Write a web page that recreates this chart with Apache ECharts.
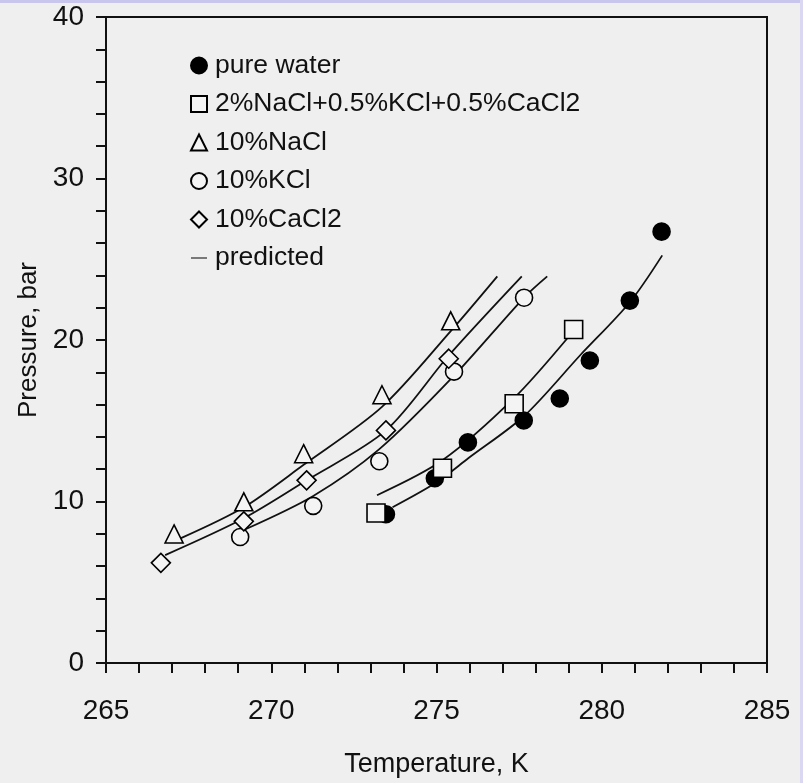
<!DOCTYPE html>
<html>
<head>
<meta charset="utf-8">
<script src="https://cdn.jsdelivr.net/npm/echarts@6/dist/echarts.min.js"></script>
<style>
html,body{margin:0;padding:0;background:#efefef;}
#c{width:803px;height:783px;}
</style>
</head>
<body>
<div id="c"></div>
<script>
// ---- measured data (Temperature K, Pressure bar) ----
const pureWater = [[273.47,9.21],[274.95,11.44],[275.95,13.66],[277.64,15.02],[278.73,16.38],[279.64,18.73],[280.85,22.44],[281.81,26.71]];
const mixedBrine = [[273.17,9.29],[275.18,12.06],[277.35,16.05],[279.15,20.65]];
const naCl10 = [[267.06,7.99],[269.17,9.98],[270.98,12.96],[273.35,16.61],[275.43,21.19]];
const kCl10 = [[269.06,7.80],[271.27,9.73],[273.27,12.49],[275.53,18.04],[277.65,22.62]];
const caCl2_10 = [[266.66,6.20],[269.17,8.77],[271.07,11.31],[273.47,14.40],[275.37,18.84]];

// predicted curves
const predNaCl = [[267.27,7.73],[269.17,9.64],[270.98,12.27],[273.35,15.86],[275.43,20.55],[276.84,23.94]];
const predCaCl2 = [[266.79,6.68],[269.17,8.96],[271.07,11.31],[273.47,14.40],[275.37,19.04],[277.58,23.94]];
const predKCl = [[269.22,8.28],[271.27,10.34],[273.27,13.24],[275.53,17.79],[277.65,22.63],[278.35,23.94]];
const predMixed = [[273.20,10.39],[275.18,12.55],[277.35,16.41],[279.03,20.28]];
const predWater = [[273.67,9.64],[274.99,11.17],[275.97,12.69],[277.66,15.31],[279.34,19.04],[280.85,22.34],[281.83,25.24]];

const xTicks = [265,270,275,280,285];
const yTicks = [0,10,20,30,40];

const legendNames = ['pure water','2%NaCl+0.5%KCl+0.5%CaCl2','10%NaCl','10%KCl','10%CaCl2','predicted'];

const FONT = "'Liberation Sans', Arial, sans-serif";
const NARROW = "'Liberation Sans Narrow', 'Liberation Sans', Arial, sans-serif";
const chart = echarts.init(document.getElementById('c'), null, {renderer:'canvas'});

function scatter(name, data, symbol, filled, size){
  return {
    name, type:'scatter', data, symbol, symbolSize:size, z:5,
    itemStyle:{color: filled ? '#000' : '#f4f4f4', borderColor:'#000', borderWidth:1.6, opacity:1}
  };
}
function curve(data){
  return {
    name:'predicted', type:'line', data, smooth:0.3, symbol:'none', z:3,
    lineStyle:{color:'#111', width:1.8}
  };
}

chart.setOption({
  backgroundColor:'#efefef',
  animation:false,
  grid:{left:106, right:36, top:17, bottom:118, show:true, borderColor:'#111', borderWidth:2, backgroundColor:'transparent'},
  legend:{
    orient:'vertical', left:185, top:47, itemGap:11.5, itemWidth:16, itemHeight:16,
    textStyle:{fontFamily:FONT, fontSize:26.5, color:'#111', padding:[0,0,0,3]},
    data:[
      {name:legendNames[0], icon:'circle'},
      {name:legendNames[1], icon:'rect'},
      {name:legendNames[2], icon:'triangle'},
      {name:legendNames[3], icon:'circle'},
      {name:legendNames[4], icon:'diamond'},
      {name:legendNames[5], icon:'path://M0,0L24,0L24,1.6L0,1.6Z', itemStyle:{color:'#111'}}
    ]
  },
  xAxis:{
    type:'value', min:265, max:285, interval:5,
    name:'Temperature, K', nameLocation:'middle', nameGap:88,
    nameTextStyle:{fontFamily:NARROW, fontSize:27, color:'#111'},
    axisLine:{show:true, lineStyle:{color:'#111', width:2}},
    axisTick:{show:true, inside:false, length:10, lineStyle:{color:'#111', width:2}},
    minorTick:{show:true, splitNumber:5, length:10, lineStyle:{color:'#111', width:2}},
    axisLabel:{fontFamily:FONT, fontSize:28, color:'#111', margin:34,
      formatter:v => xTicks.includes(v) ? String(v) : ''},
    splitLine:{show:false}
  },
  yAxis:{
    type:'value', min:0, max:40, interval:10,
    name:'Pressure, bar', nameLocation:'middle', nameGap:58,
    nameTextStyle:{fontFamily:FONT, fontSize:26, color:'#111'},
    axisLine:{show:true, lineStyle:{color:'#111', width:2}},
    axisTick:{show:true, inside:false, length:10, lineStyle:{color:'#111', width:2}},
    minorTick:{show:true, splitNumber:5, length:10, lineStyle:{color:'#111', width:2}},
    axisLabel:{fontFamily:FONT, fontSize:28, color:'#111', margin:22,
      formatter:v => yTicks.includes(v) ? String(v) : ''},
    splitLine:{show:false}
  },
  graphic:[
    {type:'rect', left:0, top:0, shape:{width:803, height:3}, style:{fill:'#c9c6ee'}, silent:true},
    {type:'rect', left:800, top:0, shape:{width:3, height:783}, style:{fill:'#d9d7f2'}, silent:true}
  ],
  series:[
    scatter(legendNames[0], pureWater, 'circle', true, 17),
    scatter(legendNames[1], mixedBrine, 'rect', false, 18),
    scatter(legendNames[2], naCl10, 'triangle', false, 18),
    scatter(legendNames[3], kCl10, 'circle', false, 17),
    scatter(legendNames[4], caCl2_10, 'diamond', false, 19),
    curve(predNaCl), curve(predCaCl2), curve(predKCl), curve(predMixed), curve(predWater)
  ]
});
</script>
</body>
</html>
